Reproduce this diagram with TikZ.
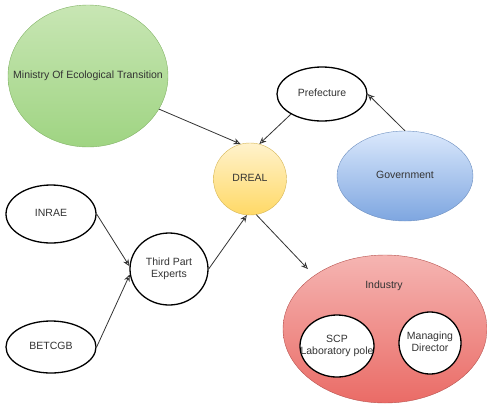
\documentclass[tikz,border=0pt]{standalone}
\usepackage{fontspec}
\setmainfont{Liberation Sans}
\usetikzlibrary{arrows.meta,shapes.geometric}

\definecolor{greenline}{HTML}{82B366}
\definecolor{greentop}{HTML}{C8E6B4}
\definecolor{greenbot}{HTML}{9FD482}
\definecolor{blueline}{HTML}{6C8EBF}
\definecolor{bluetop}{HTML}{DAE8FC}
\definecolor{bluebot}{HTML}{7EA6E0}
\definecolor{yellowline}{HTML}{D6B656}
\definecolor{yellowtop}{HTML}{FFF2CC}
\definecolor{yellowbot}{HTML}{FFD966}
\definecolor{redline}{HTML}{B85450}
\definecolor{redtop}{HTML}{F5B5B2}
\definecolor{redbot}{HTML}{EA6B66}

\newcommand{\nowide}[1]{\makebox[0pt]{\begin{tabular}{@{}c@{}}#1\end{tabular}}}

\begin{document}
\begin{tikzpicture}[x=1pt,y=-1pt,
    every node/.style={font=\fontsize{10.5}{12.5}\selectfont, text=black!80},
    blob/.style 2 args={ellipse, inner sep=0pt, minimum width=#1, minimum height=#2},
    sketch/.style={draw=black, line width=1.3pt, fill=white},
    link/.style={draw=black!80, line width=0.8pt, -{Stealth[open,length=7pt,width=6pt]}}]
\useasboundingbox (0,0) rectangle (487,405);

\node[blob={160}{142}, draw=greenline, top color=greentop, bottom color=greenbot] (met) at (88,76) {\nowide{Ministry Of Ecological Transition}};
\node[blob={90}{54}, sketch] (pref) at (322,94) {\nowide{Prefecture}};
\node[blob={136}{90}, draw=blueline, top color=bluetop, bottom color=bluebot] (gov) at (405,176) {\nowide{Government}};
\node[blob={73}{72}, draw=yellowline, top color=yellowtop, bottom color=yellowbot] (dreal) at (250,179) {\nowide{DREAL}};
\node[blob={90}{58}, sketch] (inrae) at (51,214) {\nowide{INRAE}};
\node[blob={90}{52}, sketch] (betcgb) at (51,347) {\nowide{BETCGB}};
\node[blob={78}{72}, sketch] (third) at (169,269) {\nowide{Third Part\\Experts}};
\node[blob={204}{148}, draw=redline, top color=redtop, bottom color=redbot] (ind) at (385,329) {};
\node (indlabel) at (384,286) {Industry};
\node[blob={74}{62}, sketch] (scp) at (337,346) {\nowide{SCP\\Laboratory pole}};
\node[blob={62}{62}, sketch] (md) at (430,343) {\nowide{Managing\\Director}};

\draw[link] (met.-25) -- (dreal.105);
\draw[link] (pref.213) -- (dreal.75);
\draw[link] (gov.north) -- (pref.east);
\draw[link] (inrae.east) -- (third.176);
\draw[link] (betcgb.east) -- (third.188);
\draw[link] (third.east) -- (dreal.-95);
\draw[link, shorten >=9pt] (dreal.-80) -- (ind.143);
\end{tikzpicture}
\end{document}
